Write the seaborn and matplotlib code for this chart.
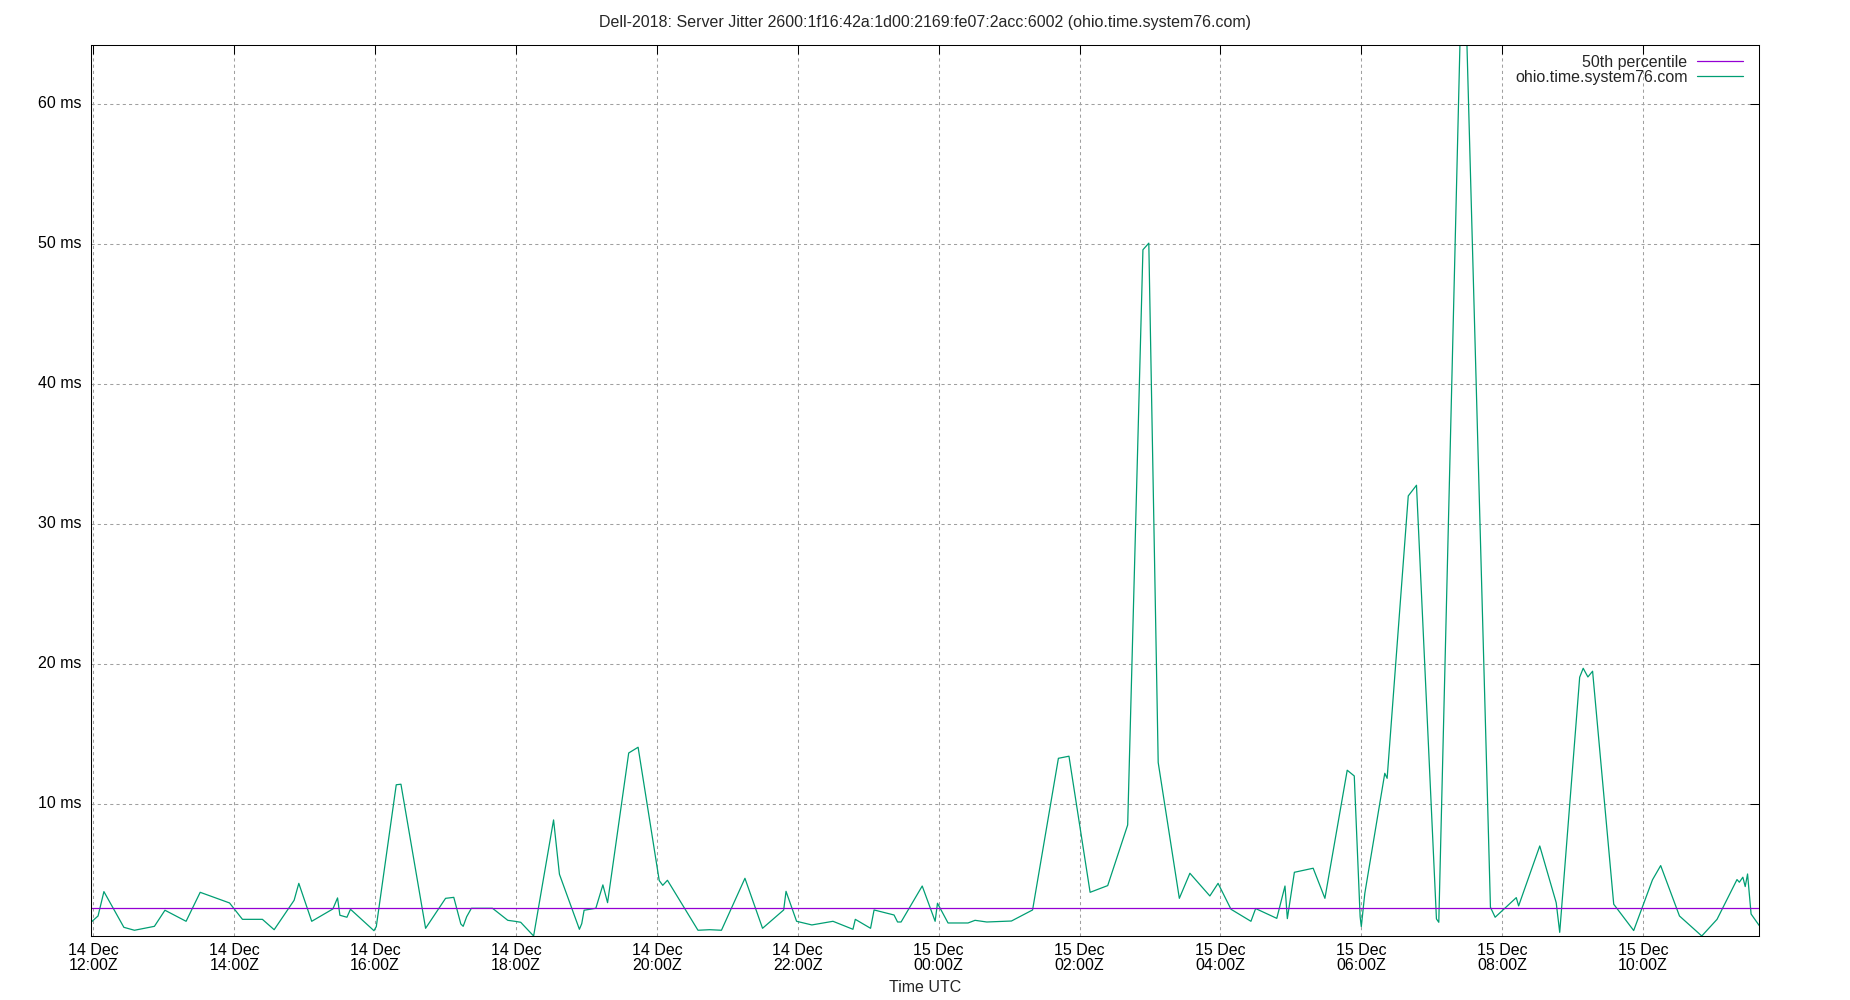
import matplotlib
matplotlib.use("Agg")
import matplotlib.pyplot as plt
import matplotlib.transforms as mtransforms
import pandas as pd
import seaborn as sns

title = "Dell-2018: Server Jitter 2600:1f16:42a:1d00:2169:fe07:2acc:6002 (ohio.time.system76.com)"
server = "ohio.time.system76.com"
median_label = "50th percentile"
median_ms = 2.57

# sample times (UTC) and jitter in ms
times = [
    "2018-12-14 11:58", "2018-12-14 12:04", "2018-12-14 12:09", "2018-12-14 12:26", "2018-12-14 12:35",
    "2018-12-14 12:52", "2018-12-14 13:01", "2018-12-14 13:19", "2018-12-14 13:31", "2018-12-14 13:56",
    "2018-12-14 14:07", "2018-12-14 14:24", "2018-12-14 14:34", "2018-12-14 14:51", "2018-12-14 14:55",
    "2018-12-14 15:06", "2018-12-14 15:24", "2018-12-14 15:28", "2018-12-14 15:30", "2018-12-14 15:36",
    "2018-12-14 15:39", "2018-12-14 15:59", "2018-12-14 16:01", "2018-12-14 16:18", "2018-12-14 16:22",
    "2018-12-14 16:43", "2018-12-14 17:00", "2018-12-14 17:07", "2018-12-14 17:13", "2018-12-14 17:15",
    "2018-12-14 17:18", "2018-12-14 17:22", "2018-12-14 17:40", "2018-12-14 17:53", "2018-12-14 17:59",
    "2018-12-14 18:04", "2018-12-14 18:15", "2018-12-14 18:32", "2018-12-14 18:37", "2018-12-14 18:54",
    "2018-12-14 18:56", "2018-12-14 18:58", "2018-12-14 19:08", "2018-12-14 19:14", "2018-12-14 19:18",
    "2018-12-14 19:36", "2018-12-14 19:44", "2018-12-14 20:02", "2018-12-14 20:05", "2018-12-14 20:09",
    "2018-12-14 20:35", "2018-12-14 20:45", "2018-12-14 20:55", "2018-12-14 21:15", "2018-12-14 21:30",
    "2018-12-14 21:48", "2018-12-14 21:50", "2018-12-14 21:59", "2018-12-14 22:12", "2018-12-14 22:30",
    "2018-12-14 22:47", "2018-12-14 22:49", "2018-12-14 23:02", "2018-12-14 23:05", "2018-12-14 23:22",
    "2018-12-14 23:25", "2018-12-14 23:28", "2018-12-14 23:46", "2018-12-14 23:57", "2018-12-14 23:59",
    "2018-12-15 00:08", "2018-12-15 00:25", "2018-12-15 00:31", "2018-12-15 00:41", "2018-12-15 01:02",
    "2018-12-15 01:20", "2018-12-15 01:42", "2018-12-15 01:51", "2018-12-15 02:09", "2018-12-15 02:24",
    "2018-12-15 02:41", "2018-12-15 02:54", "2018-12-15 02:59", "2018-12-15 03:07", "2018-12-15 03:25",
    "2018-12-15 03:34", "2018-12-15 03:51", "2018-12-15 03:58", "2018-12-15 04:09", "2018-12-15 04:26",
    "2018-12-15 04:30", "2018-12-15 04:48", "2018-12-15 04:55", "2018-12-15 04:57", "2018-12-15 05:03",
    "2018-12-15 05:19", "2018-12-15 05:29", "2018-12-15 05:48", "2018-12-15 05:54", "2018-12-15 05:59",
    "2018-12-15 06:00", "2018-12-15 06:03", "2018-12-15 06:20", "2018-12-15 06:22", "2018-12-15 06:40",
    "2018-12-15 06:47", "2018-12-15 07:04", "2018-12-15 07:06", "2018-12-15 07:24", "2018-12-15 07:30",
    "2018-12-15 07:50", "2018-12-15 07:54", "2018-12-15 08:12", "2018-12-15 08:14", "2018-12-15 08:32",
    "2018-12-15 08:46", "2018-12-15 08:49", "2018-12-15 09:06", "2018-12-15 09:09", "2018-12-15 09:13",
    "2018-12-15 09:17", "2018-12-15 09:35", "2018-12-15 09:52", "2018-12-15 10:08", "2018-12-15 10:15",
    "2018-12-15 10:31", "2018-12-15 10:50", "2018-12-15 11:03", "2018-12-15 11:20", "2018-12-15 11:22",
    "2018-12-15 11:25", "2018-12-15 11:27", "2018-12-15 11:29", "2018-12-15 11:32", "2018-12-15 11:39",
]
jitter_ms = [
    1.57, 2.02, 3.76, 1.21, 1.00,
    1.28, 2.43, 1.64, 3.71, 2.95,
    1.78, 1.78, 1.04, 3.14, 4.35,
    1.64, 2.52, 3.31, 2.07, 1.93,
    2.50, 0.97, 1.26, 11.39, 11.43,
    1.14, 3.28, 3.35, 1.45, 1.28,
    1.97, 2.57, 2.57, 1.71, 1.64,
    1.57, 0.59, 8.88, 5.00, 1.07,
    1.47, 2.43, 2.57, 4.24, 2.97,
    13.66, 14.07, 4.55, 4.21, 4.57,
    1.00, 1.04, 1.00, 4.71, 1.14,
    2.45, 3.78, 1.64, 1.38, 1.64,
    1.07, 1.78, 1.14, 2.45, 2.09,
    1.59, 1.59, 4.16, 1.64, 2.93,
    1.52, 1.52, 1.71, 1.59, 1.66,
    2.45, 13.28, 13.43, 3.71, 4.19,
    8.52, 49.60, 50.07, 12.98, 3.28,
    5.07, 3.45, 4.35, 2.50, 1.64,
    2.55, 1.85, 4.16, 1.83, 5.14,
    5.43, 3.28, 12.43, 12.02, 1.97,
    1.26, 3.64, 12.21, 11.85, 32.02,
    32.78, 1.81, 1.57, 64.20, 64.20,
    2.64, 1.93, 3.33, 2.74, 7.02,
    2.97, 0.85, 19.07, 19.71, 19.09,
    19.50, 2.86, 0.98, 4.60, 5.62,
    2.02, 0.59, 1.78, 4.62, 4.43,
    4.79, 4.12, 5.02, 2.16, 1.33,
]
y_ticks = [10, 20, 30, 40, 50, 60]
x_tick_start = "2018-12-14 12:00"
x_tick_end = "2018-12-15 10:00"

df = pd.DataFrame({"time": pd.to_datetime(times), "jitter": jitter_ms})

sns.set_style("white")
plt.rcParams["font.family"] = ["Liberation Sans", "DejaVu Sans"]
plt.rcParams["font.size"] = 11.5

fig = plt.figure(figsize=(18.5, 10), dpi=100)
ax = fig.add_axes([91 / 1850, 64 / 1000, (1759.3 - 91) / 1850, (954.7 - 64) / 1000])

sns.lineplot(data=df, x="time", y="jitter", ax=ax, color="#009e73", lw=0.9,
             estimator=None, label=server)
ax.axhline(median_ms, color="#9400d3", lw=0.9, label=median_label)

ax.set_xlim(df["time"].min(), df["time"].max())
ax.set_ylim(min(jitter_ms), max(jitter_ms))

ticks = pd.date_range(x_tick_start, x_tick_end, freq="2h")
ax.set_xticks(ticks)
ax.set_xticklabels([t.strftime("%d %b\n%H:%MZ") for t in ticks], linespacing=1.05)
ax.set_yticks(y_ticks)
ax.set_yticklabels([f"{t} ms" for t in y_ticks])

ax.tick_params(direction="in", length=6.5, width=0.75, top=True, right=True,
               labelsize=11.5, colors="black")
ax.tick_params(axis="x", pad=4.8)
ax.tick_params(axis="y", pad=7)
ax.grid(True, color="#a0a0a0", lw=0.75, ls=(0, (3, 3)))
for s in ax.spines.values():
    s.set_color("black")
    s.set_linewidth(0.75)

# gnuplot puts the y labels a touch above the grid line
nudge = mtransforms.ScaledTranslation(0, 1.5 / 72, fig.dpi_scale_trans)
for lbl in ax.get_yticklabels():
    lbl.set_transform(lbl.get_transform() + nudge)

ax.set_title(title, fontsize=11.5, pad=13)
ax.set_xlabel("Time UTC", fontsize=11.5, labelpad=4.5)
ax.set_ylabel("")

handles, labels = ax.get_legend_handles_labels()
order = [labels.index(median_label), labels.index(server)]
ax.legend([handles[i] for i in order], [labels[i] for i in order],
          loc="upper right", bbox_to_anchor=(1.0, 1.007), frameon=False,
          markerfirst=False, handlelength=2.9, handletextpad=0.6,
          labelspacing=0.0, borderaxespad=0.6, fontsize=11.5)

fig.savefig("out.png", dpi=100)
